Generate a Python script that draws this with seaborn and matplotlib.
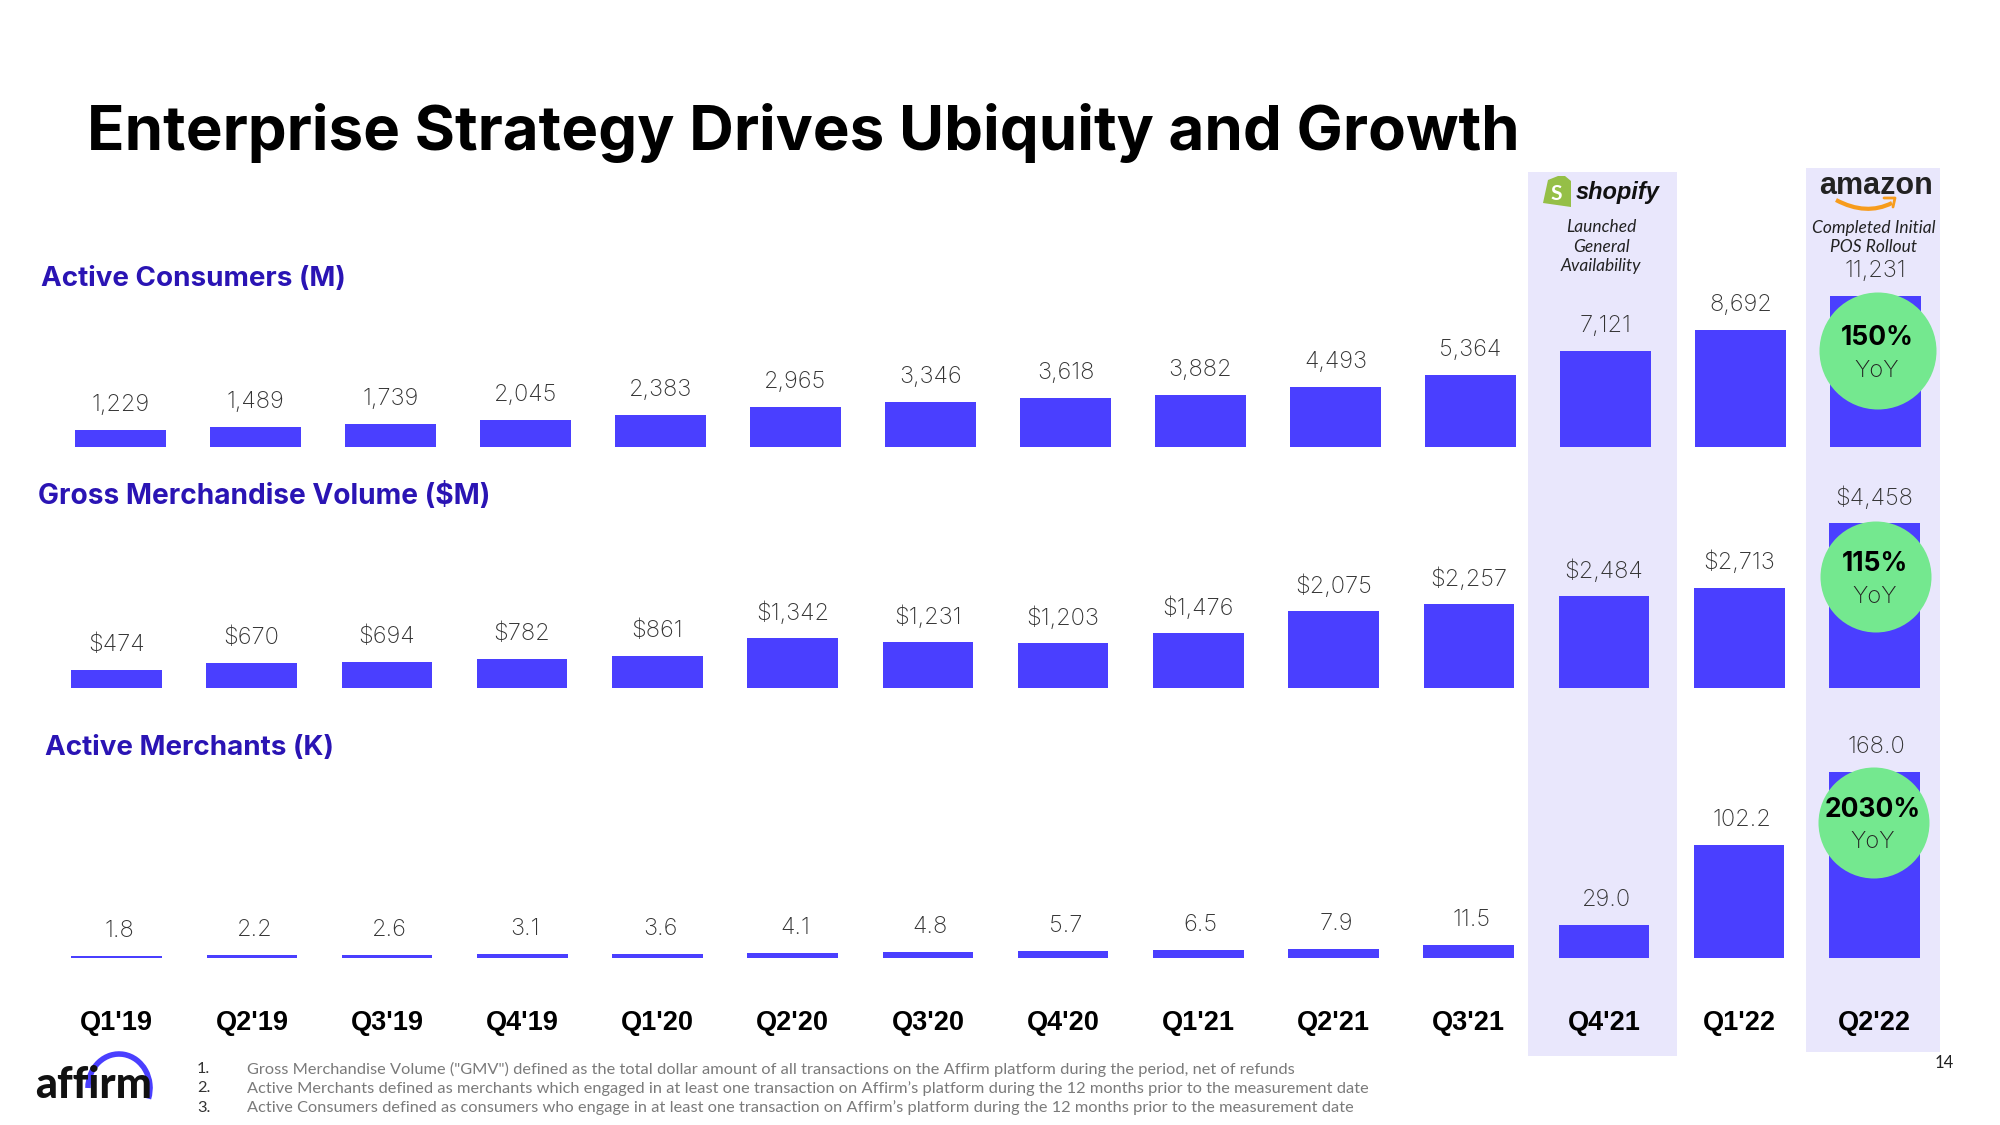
#!/usr/bin/env python3

import matplotlib
matplotlib.use("Agg")
import matplotlib.pyplot as plt
from matplotlib.patches import Arc, Circle, PathPatch, Polygon, Rectangle
from matplotlib.path import Path
import pandas
import seaborn

quarters = ["Q1'19", "Q2'19", "Q3'19", "Q4'19", "Q1'20", "Q2'20", "Q3'20",
            "Q4'20", "Q1'21", "Q2'21", "Q3'21", "Q4'21", "Q1'22", "Q2'22"]
consumers = [1229, 1489, 1739, 2045, 2383, 2965, 3346, 3618, 3882, 4493, 5364, 7121, 8692, 11231]
gmv = [474, 670, 694, 782, 861, 1342, 1231, 1203, 1476, 2075, 2257, 2484, 2713, 4458]
merchants = [1.8, 2.2, 2.6, 3.1, 3.6, 4.1, 4.8, 5.7, 6.5, 7.9, 11.5, 29.0, 102.2, 168.0]

footnotes = [
    "Gross Merchandise Volume (\"GMV\") defined as the total dollar amount of all transactions on the Affirm platform during the period, net of refunds",
    "Active Merchants defined as merchants which engaged in at least one transaction on Affirm\u2019s platform during the 12 months prior to the measurement date",
    "Active Consumers defined as consumers who engage in at least one transaction on Affirm\u2019s platform during the 12 months prior to the measurement date",
]

BAR = "#4A3FFF"
BAND = "#E9E7FC"
GREEN = "#74E88F"
HEAD = "#2A14B4"
GREY = "#333333"

seaborn.set_theme(style="white")
plt.rcParams["font.family"] = ["Lato", "DejaVu Sans"]

W, H = 2000, 1125
fig = plt.figure(figsize=(20, 11.25), dpi=100, facecolor="white")


def pixel_axes(zorder):
    ax = fig.add_axes([0, 0, 1, 1], zorder=zorder)
    ax.set_xlim(0, W)
    ax.set_ylim(H, 0)
    ax.axis("off")
    ax.patch.set_alpha(0)
    return ax


back = pixel_axes(0)
back.add_patch(Rectangle((1528, 172), 149, 884, color=BAND, lw=0))
back.add_patch(Rectangle((1806, 168), 134, 884, color=BAND, lw=0))


def bar_row(values, labels, base, px_per_unit, first, step, ticks=False, label_dx=0):
    height = 200
    ax = fig.add_axes([0, 1 - base / H, 1, height / H], zorder=1)
    df = pandas.DataFrame({"quarter": quarters, "value": values})
    seaborn.barplot(data=df, x="quarter", y="value", color=BAR, saturation=1,
                    width=90.5 / step, linewidth=0, ax=ax)
    ax.set_xlim(-first / step, (W - first) / step)
    ax.set_ylim(0, height / px_per_unit)
    ax.patch.set_alpha(0)
    seaborn.despine(ax=ax, left=True, bottom=True)
    ax.set_xlabel("")
    ax.set_ylabel("")
    ax.set_yticks([])
    if ticks:
        ax.tick_params(axis="x", length=0, pad=38)
        ax.set_xticks(range(len(quarters)))
        ax.set_xticklabels(quarters, fontsize=19.5, fontweight="bold", color="black",
                           family="Liberation Sans")
    else:
        ax.set_xticks([])
    for i, (v, t) in enumerate(zip(values, labels)):
        ax.annotate(t, (i, v), xytext=(label_dx * 0.72, 25 * 0.72), textcoords="offset points",
                    ha="center", va="center", fontsize=17, color=GREY,
                    family=["Inter", "DejaVu Sans"], fontweight="light",
                    annotation_clip=False)
    return ax


bar_row(consumers, [f"{v:,}" for v in consumers], 447, 0.01344, 120.5, 135.0)
bar_row(gmv, [f"${v:,}" for v in gmv], 688, 0.0370, 116.3, 135.25)
bar_row(merchants, [f"{v:.1f}" for v in merchants], 957.5, 1.105, 116.7, 135.2, ticks=True, label_dx=2.5)

top = pixel_axes(2)
inter = ["Inter", "DejaVu Sans"]

top.text(87, 133, "Enterprise Strategy Drives Ubiquity and Growth", fontsize=44.5,
         fontweight="bold", color="black", va="center", family=inter)

top.text(41, 279, "Active Consumers (M)", fontsize=20, fontweight="bold", color=HEAD, va="center", family=inter)
top.text(38, 496, "Gross Merchandise Volume ($M)", fontsize=20.2, fontweight="bold", color=HEAD, va="center", family=inter)
top.text(45, 748, "Active Merchants (K)", fontsize=20, fontweight="bold", color=HEAD, va="center", family=inter)

# yoy bubbles
for cx, cy, r, pct, y1, y2 in [(1878, 351, 58.5, "150%", 338, 371),
                               (1876, 577, 55.5, "115%", 564, 597),
                               (1874, 823, 55.5, "2030%", 810, 842)]:
    top.add_patch(Circle((cx, cy), r, color=GREEN, lw=0))
    top.text(cx - 1, y1, pct, fontsize=19, fontweight="bold", color="black", ha="center", va="center", family=inter)
    top.text(cx - 1, y2, "YoY", fontsize=17, color="#222222", ha="center", va="center", fontweight="light", family=inter)

# shopify logo
top.add_patch(Polygon([(1543, 203), (1548, 180), (1558, 176), (1565, 176), (1571, 181), (1571, 207)],
                      closed=True, color="#95BF47", lw=0))
top.text(1556, 194, "S", fontsize=15, fontweight="bold", color="white", ha="center", va="center")
top.text(1576, 193, "shopify", fontsize=17, fontweight="bold", style="italic", color="#111111",
         va="center", family="Liberation Sans")
for y, t in [(227, "Launched"), (247, "General"), (266, "Availability")]:
    top.text(1601, y, t, fontsize=12.5, style="italic", color="#222222", ha="center", va="center")

# amazon logo
top.text(1876, 186, "amazon", fontsize=22, fontweight="bold", color="#222222", ha="center", va="center",
         family="Liberation Sans")
top.add_patch(PathPatch(Path([(1836, 200), (1866, 216), (1892, 203)], [Path.MOVETO, Path.CURVE3, Path.CURVE3]),
                        fc="none", ec="#F79C1C", lw=3))
top.plot([1884, 1895, 1893], [198, 198, 207], color="#F79C1C", lw=2)
for y, t in [(228, "Completed Initial"), (247, "POS Rollout")]:
    top.text(1874, y, t, fontsize=12.5, style="italic", color="#222222", ha="center", va="center")

# affirm logo
top.text(35, 1085, "affirm", fontsize=31, fontweight="black", color="#111111", va="center")
top.add_patch(Arc((119, 1088), 62, 68, theta1=180, theta2=380, color=BAR, lw=4))

for i, t in enumerate(footnotes):
    y = 1069 + i * 19.5
    top.text(197, y, f"{i + 1}.", fontsize=11.8, color="#333333", va="center")
    top.text(247, y, t, fontsize=11.8, color="#7A7A7A", va="center")

top.text(1944, 1063, "14", fontsize=12, color="#222222", ha="center", va="center")

plt.savefig("out.png", dpi=100)
plt.close()
